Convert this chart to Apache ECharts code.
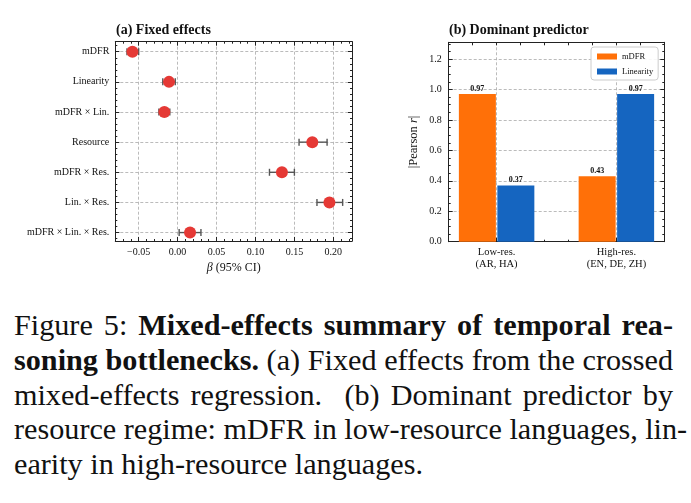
<!DOCTYPE html>
<html>
<head>
<meta charset="utf-8">
<script src="https://cdn.jsdelivr.net/npm/echarts@6/dist/echarts.min.js"></script>
<style>
  body { margin: 0; background: #fff; }
  #chart { width: 691px; height: 290px; }
  #caption {
    position: absolute; left: 14px; top: 308px; width: 659px;
    font-family: 'Liberation Serif', 'Times New Roman', serif; font-size: 30.2px; line-height: 34.8px; color: #111;
  }
  #caption div { white-space: nowrap; }
  #caption .j { text-align: justify; text-align-last: justify; }
</style>
</head>
<body>
<div id="chart"></div>
<div id="caption">
  <div class="j">Figure 5: <b>Mixed-effects summary of temporal rea-</b></div>
  <div class="j"><b>soning bottlenecks.</b> (a) Fixed effects from the crossed</div>
  <div class="j">mixed-effects regression.&nbsp; (b) Dominant predictor by</div>
  <div class="j">resource regime: mDFR in low-resource languages, lin-</div>
  <div>earity in high-resource languages.</div>
</div>
<script>
// (a) fixed effects
var terms = ['mDFR', 'Linearity', 'mDFR × Lin.', 'Resource', 'mDFR × Res.', 'Lin. × Res.', 'mDFR × Lin. × Res.'];
var beta = [-0.058, -0.011, -0.017, 0.173, 0.134, 0.195, 0.016];
var ciLow = [-0.065, -0.019, -0.024, 0.156, 0.118, 0.179, 0.002];
var ciHigh = [-0.050, -0.003, -0.010, 0.192, 0.150, 0.212, 0.030];
var betaTicks = [-0.05, 0, 0.05, 0.10, 0.15, 0.20];

// (b) dominant predictor
var regimes = ['Low-res.\n(AR, HA)', 'High-res.\n(EN, DE, ZH)'];
var mdfrR = [0.97, 0.43];
var linR = [0.37, 0.97];

var FONT = "'Liberation Serif', 'Times New Roman', serif";
var frame = '#222';
var gridLine = { show: true, lineStyle: { color: '#aaa', type: [3, 2], width: 0.8 } };

var termIdx = terms.map(function (t, i) { return i; });
var termMinor = [];
for (var k = -1; k <= 31; k++) { if (k % 5 !== 0) termMinor.push(k / 5); }

var scatterData = beta.map(function (b, i) { return [b, i]; });
var errData = beta.map(function (b, i) { return [ciLow[i], ciHigh[i], i]; });

function fmtBeta(v) {
    var s = Math.abs(v).toFixed(2);
    return v < -1e-9 ? '\u2212' + s : s;
}

// every axis sits on the frame edge, never on zero
function axisBase(extra) {
    var a = {
        type: 'value', splitLine: { show: false },
        axisLabel: { show: false }, axisTick: { show: false }
    };
    for (var key in extra) a[key] = extra[key];
    var line = a.axisLine || { show: false };
    line.onZero = false;
    a.axisLine = line;
    if (a.axisLabel) a.axisLabel.fontFamily = FONT;
    if (a.nameTextStyle) a.nameTextStyle.fontFamily = FONT;
    return a;
}

var chart = echarts.init(document.getElementById('chart'));

var option = {
    animation: false,
    textStyle: { fontFamily: FONT },
    title: [
        { text: '(a) Fixed effects', left: 116, top: 23, padding: 0, textStyle: { fontFamily: FONT, fontSize: 14, fontWeight: 'bold', color: '#111' } },
        { text: '(b) Dominant predictor', left: 449, top: 23, padding: 0, textStyle: { fontFamily: FONT, fontSize: 14, fontWeight: 'bold', color: '#111' } }
    ],
    legend: {
        data: ['mDFR', 'Linearity'], orient: 'vertical', left: 591, top: 47,
        itemWidth: 20, itemHeight: 6, itemGap: 6, padding: [5, 5, 4, 6],
        borderColor: '#ccc', borderWidth: 1, borderRadius: 3, backgroundColor: 'rgba(255,255,255,0.9)',
        textStyle: { fontFamily: FONT, fontSize: 8.5, color: '#111' }, icon: 'rect'
    },
    grid: [
        { left: 115.3, right: 339, top: 41.7, bottom: 49 },
        { left: 448.7, right: 26.7, top: 42.3, bottom: 48.3 }
    ],
    xAxis: [
        axisBase({
            gridIndex: 0, position: 'bottom', min: -0.08, max: 0.224,
            axisLine: { show: true, lineStyle: { color: frame, width: 1 } },
            axisTick: { show: true, inside: true, length: 4, customValues: betaTicks, lineStyle: { color: frame } },
            axisLabel: { show: true, customValues: betaTicks, formatter: fmtBeta, fontSize: 10, color: '#111', margin: 6 },
            splitLine: gridLine,
            name: '{i|β} (95% CI)', nameLocation: 'middle', nameGap: 21,
            nameTextStyle: { fontSize: 12, color: '#111', rich: { i: { fontStyle: 'italic', fontSize: 12, fontFamily: FONT } } }
        }),
        axisBase({ gridIndex: 0, position: 'bottom', min: -0.08, max: 0.224, interval: 0.01,
            axisTick: { show: true, inside: true, length: 2, lineStyle: { color: frame } } }),
        axisBase({ gridIndex: 0, position: 'top', min: -0.08, max: 0.224,
            axisLine: { show: true, lineStyle: { color: frame, width: 1 } },
            axisTick: { show: true, inside: true, length: 4, customValues: betaTicks, lineStyle: { color: frame } } }),
        axisBase({ gridIndex: 0, position: 'top', min: -0.08, max: 0.224, interval: 0.01,
            axisTick: { show: true, inside: true, length: 2, lineStyle: { color: frame } } }),

        axisBase({
            gridIndex: 1, position: 'bottom', min: -0.4, max: 1.4,
            axisLine: { show: true, lineStyle: { color: frame, width: 1 } },
            axisTick: { show: true, inside: true, length: 4, customValues: [0, 1], lineStyle: { color: frame } },
            axisLabel: { show: true, customValues: [0, 1], formatter: function (v) { return regimes[Math.round(v)]; },
                fontSize: 10.5, color: '#111', margin: 5, lineHeight: 12 },
            splitLine: gridLine
        }),
        axisBase({ gridIndex: 1, position: 'bottom', min: -0.4, max: 1.4, interval: 0.2,
            axisTick: { show: true, inside: true, length: 2, lineStyle: { color: frame } } }),
        axisBase({ gridIndex: 1, position: 'top', min: -0.4, max: 1.4, interval: 0.2,
            axisLine: { show: true, lineStyle: { color: frame, width: 1 } },
            axisTick: { show: true, inside: true, length: 3, lineStyle: { color: frame } } })
    ],
    yAxis: [
        axisBase({
            gridIndex: 0, position: 'left', inverse: true, min: -0.333, max: 6.28,
            axisLine: { show: true, lineStyle: { color: frame, width: 1 } },
            axisTick: { show: true, inside: true, length: 4, customValues: termIdx, lineStyle: { color: frame } },
            axisLabel: { show: true, customValues: termIdx, formatter: function (v) { return terms[Math.round(v)]; },
                fontSize: 10, color: '#111', margin: 6 },
            splitLine: gridLine
        }),
        axisBase({ gridIndex: 0, position: 'left', inverse: true, min: -0.333, max: 6.28,
            axisTick: { show: true, inside: true, length: 2, customValues: termMinor, lineStyle: { color: frame } } }),
        axisBase({ gridIndex: 0, position: 'right', inverse: true, min: -0.333, max: 6.28,
            axisLine: { show: true, lineStyle: { color: frame, width: 1 } },
            axisTick: { show: true, inside: true, length: 4, customValues: termIdx, lineStyle: { color: frame } } }),
        axisBase({ gridIndex: 0, position: 'right', inverse: true, min: -0.333, max: 6.28,
            axisTick: { show: true, inside: true, length: 2, customValues: termMinor, lineStyle: { color: frame } } }),

        axisBase({
            gridIndex: 1, position: 'left', min: 0, max: 1.31, interval: 0.2,
            axisLine: { show: true, lineStyle: { color: frame, width: 1 } },
            axisTick: { show: true, inside: true, length: 4, lineStyle: { color: frame } },
            minorTick: { show: true, splitNumber: 4, length: 2, lineStyle: { color: frame } },
            axisLabel: { show: true, formatter: function (v) { return v.toFixed(1); }, fontSize: 10, color: '#111',
                margin: 7, showMaxLabel: false },
            splitLine: gridLine,
            name: '|Pearson {i|r}|', nameLocation: 'middle', nameGap: 28, nameRotate: 90,
            nameTextStyle: { fontSize: 12.5, color: '#111', rich: { i: { fontStyle: 'italic', fontSize: 12.5, fontFamily: FONT } } }
        }),
        axisBase({
            gridIndex: 1, position: 'right', min: 0, max: 1.31, interval: 0.2,
            axisLine: { show: true, lineStyle: { color: frame, width: 1 } },
            axisTick: { show: true, inside: true, length: 4, lineStyle: { color: frame } },
            minorTick: { show: true, splitNumber: 4, length: 2, lineStyle: { color: frame } }
        })
    ],
    series: [
        {
            name: 'CI', type: 'custom', xAxisIndex: 0, yAxisIndex: 0, z: 3,
            encode: { x: [0, 1], y: 2 },
            data: errData,
            renderItem: function (params, api) {
                var p0 = api.coord([api.value(0), api.value(2)]);
                var p1 = api.coord([api.value(1), api.value(2)]);
                var cap = 3.5;
                var st = { stroke: '#555', lineWidth: 1.4 };
                return {
                    type: 'group',
                    children: [
                        { type: 'line', shape: { x1: p0[0], y1: p0[1], x2: p1[0], y2: p1[1] }, style: st },
                        { type: 'line', shape: { x1: p0[0], y1: p0[1] - cap, x2: p0[0], y2: p0[1] + cap }, style: st },
                        { type: 'line', shape: { x1: p1[0], y1: p1[1] - cap, x2: p1[0], y2: p1[1] + cap }, style: st }
                    ]
                };
            }
        },
        {
            name: 'beta', type: 'scatter', xAxisIndex: 0, yAxisIndex: 0, z: 4,
            symbolSize: 12, itemStyle: { color: '#e53935', opacity: 1 },
            data: scatterData
        },
        {
            name: 'mDFR', type: 'bar', xAxisIndex: 4, yAxisIndex: 4,
            barWidth: 37, barGap: '4%',
            itemStyle: { color: '#ff7008' },
            label: { show: true, position: 'top', distance: 1, fontFamily: FONT, fontSize: 8, fontWeight: 'bold', color: '#111',
                formatter: function (p) { return p.value[1].toFixed(2); } },
            data: mdfrR.map(function (v, i) { return [i, v]; })
        },
        {
            name: 'Linearity', type: 'bar', xAxisIndex: 4, yAxisIndex: 4,
            barWidth: 37, barGap: '4%',
            itemStyle: { color: '#1565c0' },
            label: { show: true, position: 'top', distance: 1, fontFamily: FONT, fontSize: 8, fontWeight: 'bold', color: '#111',
                formatter: function (p) { return p.value[1].toFixed(2); } },
            data: linR.map(function (v, i) { return [i, v]; })
        }
    ]
};

chart.setOption(option);
</script>
</body>
</html>
